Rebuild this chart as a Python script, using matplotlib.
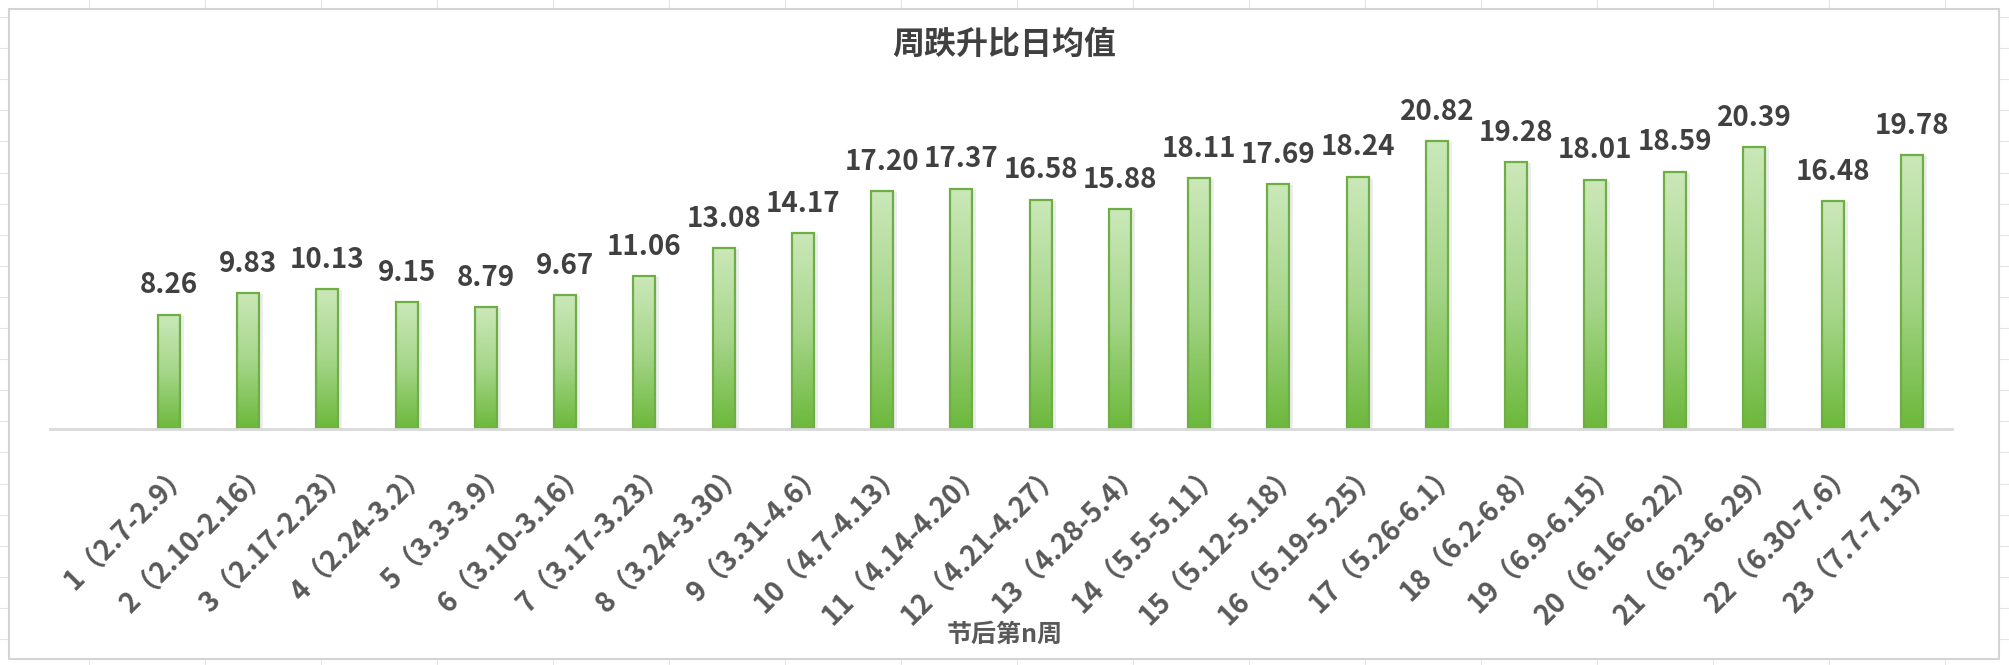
import numpy as np
import matplotlib
matplotlib.use('Agg')
import matplotlib.pyplot as plt
from matplotlib.colors import LinearSegmentedColormap
from matplotlib.patches import Rectangle
from matplotlib.lines import Line2D
from matplotlib.transforms import ScaledTranslation

plt.rcParams['font.family'] = ['Noto Sans CJK SC', 'DejaVu Sans']

# data
weeks = list(range(1, 24))
periods = ['2.7-2.9', '2.10-2.16', '2.17-2.23', '2.24-3.2', '3.3-3.9', '3.10-3.16',
           '3.17-3.23', '3.24-3.30', '3.31-4.6', '4.7-4.13', '4.14-4.20', '4.21-4.27',
           '4.28-5.4', '5.5-5.11', '5.12-5.18', '5.19-5.25', '5.26-6.1', '6.2-6.8',
           '6.9-6.15', '6.16-6.22', '6.23-6.29', '6.30-7.6', '7.7-7.13']
values = [8.26, 9.83, 10.13, 9.15, 8.79, 9.67, 11.06, 13.08, 14.17, 17.20, 17.37, 16.58,
          15.88, 18.11, 17.69, 18.24, 20.82, 19.28, 18.01, 18.59, 20.39, 16.48, 19.78]
labels = ['%d（%s）' % (w, p) for w, p in zip(weeks, periods)]

W, H = 2009, 665
fig = plt.figure(figsize=(W / 100, H / 100), dpi=100)

# faint spreadsheet grid behind the chart box
for gx in np.arange(89, W, 116):
    fig.add_artist(Line2D([gx / W] * 2, [0, 1], color='#e4e4e4', lw=0.8, zorder=-3))
for gy in np.arange(17, H, 31.1):
    fig.add_artist(Line2D([0, 1], [1 - gy / H] * 2, color='#e4e4e4', lw=0.8, zorder=-3))
fig.add_artist(Rectangle((9 / W, 1 - 659 / H), 1990 / W, 650 / H, transform=fig.transFigure,
                         fc='white', ec='#d4d4d4', lw=1.5, zorder=-2))

ax = fig.add_axes([50 / W, 1 - 429 / H, 1902 / W, 346 / H])
ax.set_facecolor('none')

green = LinearSegmentedColormap.from_list('g', ['#6cb83b', '#a6d68a', '#cbe8b9'])
grad = np.linspace(0, 1, 256).reshape(-1, 1)

x = np.arange(len(values))

# soft shadow to the right of each bar
shadow = ax.bar(x, values, width=0.28, color='#000000', alpha=0.07, lw=0, zorder=1)
offset = ax.transData + ScaledTranslation(0.04, -0.01, fig.dpi_scale_trans)
for s in shadow:
    s.set_transform(offset)

bars = ax.bar(x, values, width=0.28, facecolor='none', edgecolor='#6fae45', lw=1.6, zorder=3)
for b in bars:
    x0, w, h = b.get_x(), b.get_width(), b.get_height()
    im = ax.imshow(grad, extent=[x0, x0 + w, 0, h], origin='lower', aspect='auto',
                   cmap=green, zorder=2)
    im.set_clip_path(b)

for xi, v in zip(x, values):
    ax.annotate('%.2f' % v, (xi, v), xytext=(0, 11), textcoords='offset points',
                ha='center', va='bottom', fontsize=20, fontweight='bold', color='#404040')

ax.set_xlim(-1.5, 22.5)
ax.set_ylim(0, 25)
for s in ['top', 'left', 'right']:
    ax.spines[s].set_visible(False)
ax.spines['bottom'].set_color('#d9d9d9')
ax.spines['bottom'].set_linewidth(2)
ax.spines['bottom'].set_zorder(4)
ax.set_yticks([])
ax.set_xticks(x)
ax.set_xticklabels(labels, rotation=45, ha='right', fontsize=20, color='#595959',
                   fontweight='bold')
ax.tick_params(axis='x', length=0, pad=21)
shift = ScaledTranslation(0.28, 0, fig.dpi_scale_trans)
for lab in ax.get_xticklabels():
    lab.set_transform(lab.get_transform() + shift)

fig.text(0.5, 1 - 45 / H, '周跌升比日均值', ha='center', va='center', fontsize=23,
         fontweight='bold', color='#404040')
fig.text(0.5, 1 - 635 / H, '节后第n周', ha='center', va='center', fontsize=18,
         fontweight='bold', color='#595959')

fig.savefig('out.png', dpi=100)
